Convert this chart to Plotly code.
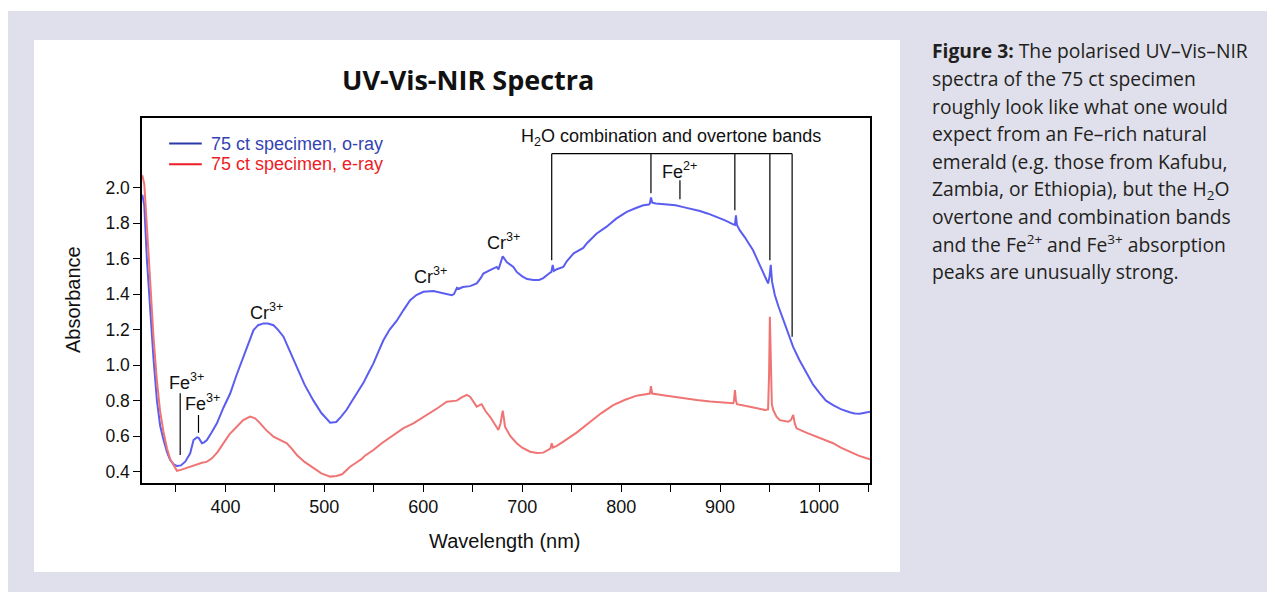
import plotly.graph_objects as go

# ---------------- data ----------------
o_wl = [316, 318, 320.7, 324, 327.4, 330.8, 334, 337.5, 341, 344.2, 348, 351, 355, 359.4, 364.4,
        367.8, 371.2, 373, 376.3, 378.5, 381.3, 386, 391.4, 398, 404.8, 411, 418.3, 424, 428.4, 433,
        438.5, 443, 448.6, 453, 458.7, 465, 472.2, 480, 489, 497, 505.9, 512, 517, 522.7, 527, 533,
        539.5, 544, 549.6, 555, 559.7, 566, 573.2, 580, 586.7, 593, 600.1, 610.2, 620.3, 628.8, 631,
        634, 636, 640, 647.3, 654, 658, 660.7, 667.5, 674.2, 676, 678, 680.3, 684.3, 691, 694.4, 700,
        705, 711.2, 717, 721.3, 728, 729.5, 730.8, 732, 735, 741.5, 745, 752, 761.7, 765.2, 775,
        785.3, 795, 805.6, 815, 822.4, 828, 829, 830.1, 831.5, 835, 846, 855, 862.8, 871, 879.6, 888,
        896.5, 905, 913.3, 915, 916, 917, 919.8, 925, 933.3, 940.2, 946.8, 948.5, 950, 951.2, 952.5,
        955.3, 959, 963.7, 968, 973.8, 980, 987.4, 994, 1000.8, 1007, 1014.2, 1022, 1031, 1036,
        1041.2, 1046, 1051.5]
o_abs = [1.96, 1.90, 1.59, 1.31, 1.03, 0.80, 0.66, 0.578, 0.51, 0.466, 0.44, 0.432, 0.435, 0.456, 0.503,
         0.578, 0.593, 0.59, 0.56, 0.565, 0.578, 0.62, 0.672, 0.76, 0.84, 0.94, 1.05, 1.14, 1.197, 1.225,
         1.235, 1.234, 1.225, 1.20, 1.16, 1.08, 0.99, 0.89, 0.80, 0.73, 0.676, 0.68, 0.71, 0.75, 0.79, 0.84,
         0.90, 0.95, 1.01, 1.08, 1.14, 1.20, 1.25, 1.31, 1.366, 1.395, 1.413, 1.418, 1.407, 1.394, 1.40,
         1.435, 1.43, 1.44, 1.445, 1.46, 1.49, 1.516, 1.535, 1.553, 1.539, 1.58, 1.613, 1.58, 1.553, 1.525, 1.50,
         1.485, 1.479, 1.48, 1.49, 1.52, 1.525, 1.565, 1.53, 1.54, 1.553, 1.585, 1.63, 1.66, 1.685, 1.74,
         1.78, 1.825, 1.863, 1.885, 1.90, 1.905, 1.91, 1.944, 1.915, 1.91, 1.905, 1.90, 1.89, 1.88, 1.868, 1.853,
         1.835, 1.815, 1.793, 1.79, 1.844, 1.79, 1.76, 1.72, 1.647, 1.56, 1.478, 1.46, 1.50, 1.565, 1.47,
         1.395, 1.33, 1.26, 1.19, 1.103, 1.03, 0.953, 0.89, 0.841, 0.80, 0.775, 0.752, 0.735, 0.728,
         0.726, 0.73, 0.738]

e_wl = [316, 318, 321, 324, 327.4, 330.8, 334, 337.5, 341, 344.2, 348, 351, 355, 360, 364.4, 370,
        376.3, 381, 386.4, 392, 398, 404, 411.5, 418, 425, 430, 435.2, 441, 448.6, 455, 462.1, 467,
        472.2, 480, 489, 497, 505.9, 512, 518, 526, 532, 536.2, 537.5, 541, 549.6, 558, 569.8, 580,
        590, 598, 606.9, 615, 623.7, 633.8, 638, 643.9, 647.3, 651, 654, 657, 659, 663, 667.5, 672,
        675.9, 678, 680.3, 681.5, 682.6, 688, 694.4, 700, 707.9, 715, 721.3, 728.5, 729.8, 731, 735,
        741.5, 755, 768.5, 780, 792, 804, 815.7, 825, 829, 830.1, 831.3, 842.5, 860, 876.3, 890, 903.1,
        913.3, 914, 915, 916, 917, 930.1, 945.3, 948.5, 949.5, 950.3, 951.2, 952.3, 953.7, 957, 960.4,
        968.8, 971.5, 973.9, 975.5, 977.3, 987, 997.5, 1006, 1014.2, 1022, 1031, 1040, 1048, 1051.5]
e_abs = [2.07, 2.02, 1.75, 1.45, 1.15, 0.91, 0.74, 0.62, 0.53, 0.47, 0.43, 0.405, 0.41, 0.42, 0.43, 0.44,
         0.45, 0.455, 0.475, 0.51, 0.56, 0.61, 0.653, 0.69, 0.71, 0.70, 0.672, 0.635, 0.597, 0.58, 0.56, 0.53,
         0.494, 0.455, 0.419, 0.39, 0.372, 0.375, 0.385, 0.428, 0.45, 0.466, 0.47, 0.49, 0.522, 0.56, 0.606, 0.645,
         0.672, 0.70, 0.729, 0.76, 0.794, 0.80, 0.815, 0.832, 0.822, 0.79, 0.766, 0.775, 0.78, 0.74, 0.709, 0.67,
         0.635, 0.67, 0.743, 0.70, 0.653, 0.60, 0.56, 0.535, 0.512, 0.505, 0.507, 0.53, 0.56, 0.535, 0.545,
         0.569, 0.62, 0.68, 0.73, 0.775, 0.805, 0.828, 0.838, 0.84, 0.882, 0.84, 0.83, 0.815, 0.803, 0.795, 0.788,
         0.785, 0.80, 0.86, 0.80, 0.78, 0.766, 0.747, 0.75, 0.95, 1.272, 0.95, 0.78, 0.747, 0.71, 0.69,
         0.681, 0.69, 0.719, 0.67, 0.644, 0.62, 0.597, 0.578, 0.56, 0.535, 0.512, 0.49, 0.475, 0.47]

series_names = ["75 ct specimen, o-ray", "75 ct specimen, e-ray"]
x_ticks = [400, 500, 600, 700, 800, 900, 1000]
y_ticks = [0.4, 0.6, 0.8, 1.0, 1.2, 1.4, 1.6, 1.8, 2.0]
y_tick_labels = ["0.4", "0.6", "0.8", "1.0", "1.2", "1.4", "1.6", "1.8", "2.0"]

# H2O combination / overtone band positions and bracket line ends
h2o_bands = [729.8, 830.1, 914.9, 950.3, 972.8]
h2o_band_ends = [1.591, 1.968, 1.872, 1.591, 1.16]

caption_lines = [
    "<b>Figure 3:</b> The polarised UV\u2013Vis\u2013NIR",
    "spectra of the 75 ct specimen",
    "roughly look like what one would",
    "expect from an Fe\u2013rich natural",
    "emerald (e.g. those from Kafubu,",
    "Zambia, or Ethiopia), but the H<sub>2</sub>O",
    "overtone and combination bands",
    "and the Fe<sup>2+</sup> and Fe<sup>3+</sup> absorption",
    "peaks are unusually strong.",
]

# ---------------- layout geometry ----------------
# the page body has an 8 px margin, so the figure sits at (8, 8) in the window
OFF = 8
W, H = 1275 - OFF, 592 - OFF
L, R, T, B = 142 - OFF, 870 - OFF, 118 - OFF, 483 - OFF
X_RANGE = [315.7, 1051.5]
Y_RANGE = [0.336, 2.392]


def px(xp):  # window x pixel -> paper fraction
    return (xp - OFF - L) / (R - L)


def py(yp):  # window y pixel -> paper fraction
    return (B - (yp - OFF)) / (B - T)


AX_FONT = "Liberation Sans, Arial, sans-serif"
BLUE = "#5a5df0"
RED = "#f07474"

fig = go.Figure()
fig.add_trace(go.Scatter(x=o_wl, y=o_abs, mode="lines", name=series_names[0],
                         line=dict(color=BLUE, width=2), showlegend=False))
fig.add_trace(go.Scatter(x=e_wl, y=e_abs, mode="lines", name=series_names[1],
                         line=dict(color=RED, width=2), showlegend=False))

shapes = [
    # page background
    dict(type="rect", xref="paper", yref="paper", x0=px(8), x1=px(1276), y0=py(593), y1=py(11),
         fillcolor="#e0e0ec", line=dict(width=0), layer="below"),
    dict(type="rect", xref="paper", yref="paper", x0=px(34), x1=px(900), y0=py(572), y1=py(40),
         fillcolor="#ffffff", line=dict(width=0), layer="below"),
]

# legend lines (manual)
leg_colors = ["#2b3aa8", "#ee1c25"]
leg_text_colors = ["#3443b3", "#ee1c25"]
leg_y = [2.248, 2.131]
for c, yy in zip(leg_colors, leg_y):
    shapes.append(dict(type="line", xref="x", yref="y", x0=343.1, x1=376.1, y0=yy, y1=yy,
                       line=dict(color=c, width=2)))

# H2O bracket
bracket_y = 2.191
shapes.append(dict(type="line", xref="x", yref="y", x0=h2o_bands[0], x1=h2o_bands[-1],
                   y0=bracket_y, y1=bracket_y, line=dict(color="black", width=1.2)))
for xb, yb in zip(h2o_bands, h2o_band_ends):
    shapes.append(dict(type="line", xref="x", yref="y", x0=xb, x1=xb, y0=bracket_y, y1=yb,
                       line=dict(color="black", width=1.2)))
# Fe2+ tick and Fe3+ ticks
for xb, y0, y1 in [(859.4, 2.041, 1.934), (354.3, 0.841, 0.494), (372.8, 0.719, 0.619)]:
    shapes.append(dict(type="line", xref="x", yref="y", x0=xb, x1=xb, y0=y0, y1=y1,
                       line=dict(color="black", width=1.2)))

annotations = []
# title
annotations.append(dict(text="<b>UV-Vis-NIR Spectra</b>", xref="paper", yref="paper",
                        x=px(467.7), y=py(79), xanchor="center", yanchor="middle", showarrow=False,
                        font=dict(family="Open Sans, sans-serif", size=27, color="#111111")))
# axis titles
annotations.append(dict(text="Absorbance", xref="paper", yref="paper", x=px(73), y=py(300),
                        textangle=-90, xanchor="center", yanchor="middle", showarrow=False,
                        font=dict(family=AX_FONT, size=20, color="#111111")))
annotations.append(dict(text="Wavelength (nm)", xref="paper", yref="paper", x=px(505), y=py(541),
                        xanchor="center", yanchor="middle", showarrow=False,
                        font=dict(family=AX_FONT, size=20, color="#111111")))
# legend text
for name, c, yy in zip(series_names, leg_text_colors, leg_y):
    annotations.append(dict(text=name, xref="x", yref="y", x=383.6, y=yy, xanchor="left",
                            yanchor="middle", showarrow=False,
                            font=dict(family=AX_FONT, size=18, color=c)))
# band labels
band_labels = [
    ("Fe<sup>3+</sup>", 360.4, 0.906),
    ("Fe<sup>3+</sup>", 376.8, 0.788),
    ("Cr<sup>3+</sup>", 441.2, 1.30),
    ("Cr<sup>3+</sup>", 606.9, 1.507),
    ("Cr<sup>3+</sup>", 680.6, 1.694),
    ("H<sub>2</sub>O combination and overtone bands", 850.3, 2.281),
    ("Fe<sup>2+</sup>", 859.4, 2.096),
]
for txt, xx, yy in band_labels:
    annotations.append(dict(text=txt, xref="x", yref="y", x=xx, y=yy, xanchor="center",
                            yanchor="middle", showarrow=False,
                            font=dict(family=AX_FONT, size=18, color="#111111")))
# caption
for i, line in enumerate(caption_lines):
    annotations.append(dict(text=line, xref="paper", yref="paper", x=px(930), y=py(51 + 27.6 * i),
                            xanchor="left", yanchor="middle", showarrow=False,
                            font=dict(family="Open Sans, sans-serif", size=19.3, color="#231f20")))

fig.update_layout(
    width=W, height=H,
    margin=dict(l=L, r=W - R, t=T, b=H - B, pad=0),
    paper_bgcolor="#ffffff", plot_bgcolor="#ffffff",
    shapes=shapes, annotations=annotations, showlegend=False,
)
fig.update_xaxes(range=X_RANGE, tickvals=x_ticks, ticks="outside", ticklen=7, tickwidth=1.2,
                 tickcolor="black", showline=True, linecolor="black", linewidth=1.5, mirror=True,
                 showgrid=False, zeroline=False,
                 tickfont=dict(family=AX_FONT, size=18, color="#111111"),
                 minor=dict(dtick=50, tick0=0, ticks="outside", ticklen=7, tickwidth=1.2,
                            tickcolor="black", showgrid=False))
fig.update_yaxes(range=Y_RANGE, tickvals=y_ticks, ticktext=y_tick_labels, ticks="outside",
                 ticklen=7, tickwidth=1.2, tickcolor="black", showline=True, linecolor="black",
                 linewidth=1.5, mirror=True, showgrid=False, zeroline=False,
                 tickfont=dict(family=AX_FONT, size=17.5, color="#111111"))

fig.write_html("out.html")
